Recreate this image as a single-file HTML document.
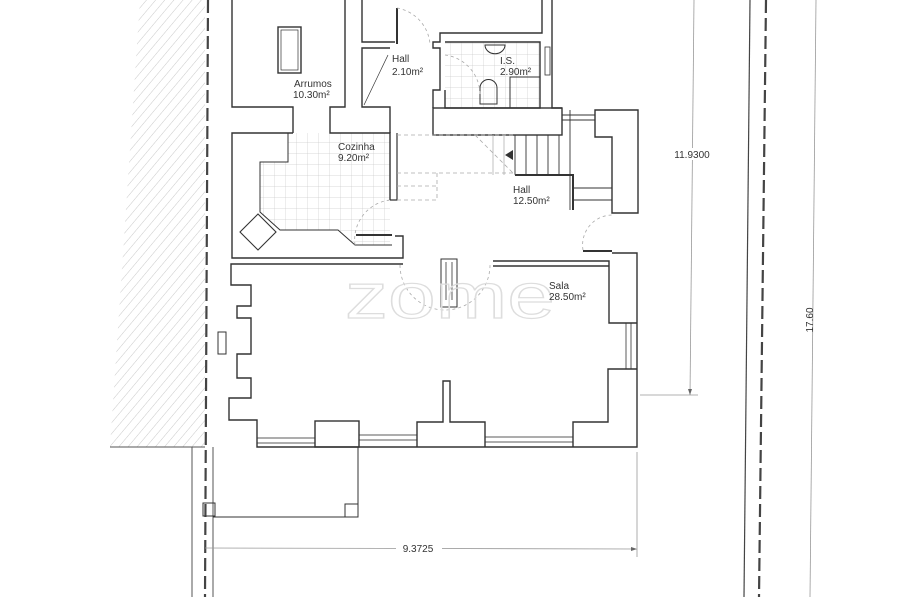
<!DOCTYPE html>
<html><head><meta charset="utf-8"><style>
html,body{margin:0;padding:0;background:#fff;}
svg{display:block}
text{font-family:"Liberation Sans",sans-serif;fill:#333;font-size:10px}
text.wm{font-size:64px;fill:none;stroke:#ddd;stroke-width:1.2}
</style></head><body>
<svg width="900" height="597" viewBox="0 0 900 597" xmlns="http://www.w3.org/2000/svg">
<defs>
<pattern id="hat" width="7" height="7" patternUnits="userSpaceOnUse" patternTransform="rotate(40)">
<line x1="0" y1="0" x2="0" y2="7" stroke="#bbb" stroke-width="0.8"/>
</pattern>
<pattern id="tile" width="11" height="11" patternUnits="userSpaceOnUse">
<path d="M11 0V11H0" fill="none" stroke="#ccc" stroke-width="0.7"/>
</pattern>
</defs>
<polygon points="140,0 205,0 205,447 110,447" fill="url(#hat)"/>
<line x1="110" y1="447" x2="205" y2="447" stroke="#555" stroke-width="1"/>
<line x1="208" y1="0" x2="205" y2="597" stroke="#444" stroke-width="2.2" stroke-dasharray="13,5"/>
<line x1="192" y1="447" x2="192" y2="597" stroke="#555" stroke-width="1"/>
<line x1="213" y1="447" x2="213" y2="597" stroke="#555" stroke-width="1"/>
<line x1="750" y1="0" x2="744" y2="597" stroke="#444" stroke-width="1.2"/>
<line x1="766" y1="0" x2="759" y2="597" stroke="#444" stroke-width="2.2" stroke-dasharray="13,5"/>
<line x1="816" y1="0" x2="810" y2="597" stroke="#999" stroke-width="0.8"/>
<text x="0" y="0" transform="translate(813,320) rotate(-90)" text-anchor="middle">17.60</text>
<line x1="694" y1="0" x2="690" y2="395" stroke="#999" stroke-width="0.8"/>
<line x1="640" y1="395" x2="698" y2="395" stroke="#999" stroke-width="0.8"/>
<polygon points="690,395 688,389 692,389" fill="#666"/>
<rect x="670" y="148" width="46" height="12" fill="#fff"/>
<text x="692" y="158" text-anchor="middle">11.9300</text>
<line x1="205" y1="548" x2="637" y2="549" stroke="#999" stroke-width="0.8"/>
<line x1="637" y1="452" x2="637" y2="557" stroke="#999" stroke-width="0.8"/>
<polygon points="637,549 631,547 631,551" fill="#666"/>
<rect x="396" y="542" width="46" height="12" fill="#fff"/>
<text x="418" y="552" text-anchor="middle">9.3725</text>

<g fill="none" stroke="#333" stroke-width="1.4">
<polygon points="288,133 390,133 390,245 355,245 338,230 280,230 260,212 260,162 288,162" fill="url(#tile)" stroke="none"/>
<rect x="445" y="42" width="95" height="66" fill="url(#tile)" stroke="none"/>
<polyline points="232,0 232,107 293,107 293,133"/>
<polyline points="345,0 345,107 330,107 330,133 390,133 390,200"/>
<rect x="278" y="27" width="23" height="46"/>
<rect x="281" y="30" width="17" height="40" stroke-width="0.7"/>
<polyline points="293,133 232,133 232,258 403,258 403,236 395,236"/>
<polyline points="397,133 397,200 390,200" stroke-width="1.2"/>
<polyline points="288,133 288,162 260,162 260,212 280,230 338,230 355,245 392,245" stroke-width="1"/>
<polygon points="258,214 276,232 258,250 240,232" stroke-width="1.1"/>
<line x1="356" y1="235" x2="392" y2="235" stroke-width="2"/>
<polyline points="362,0 362,42 395,42"/>
<line x1="397" y1="8" x2="397" y2="44" stroke-width="2"/>
<polyline points="390,48 362,48 362,107 390,107 390,133"/>
<line x1="364" y1="105" x2="388" y2="55" stroke-width="0.7"/>
<polyline points="542,0 542,33 440,33 440,42 433,42 433,48 440,48 440,90 433,90 433,108"/>
<polyline points="552,0 552,45"/>
<polyline points="445,42 540,42 540,108 445,108 445,90"/>
<path d="M485,45 a8,7 0 0 0 20,0 z" stroke-width="1"/>
<path d="M480,104 v-16 a8,8 0 0 1 17,0 v16 z" stroke-width="1"/>
<rect x="510" y="77" width="30" height="31" stroke-width="1"/>
<rect x="545" y="47" width="5" height="28" stroke-width="0.8"/>
<polyline points="552,45 552,108 562,108"/>
<rect x="433" y="108" width="129" height="27"/>
<g stroke-width="0.9">
<line x1="504" y1="135" x2="504" y2="175" stroke="#bbb"/><line x1="493" y1="135" x2="493" y2="175" stroke="#bbb"/>
<line x1="515" y1="135" x2="515" y2="175"/><line x1="526" y1="135" x2="526" y2="175"/>
<line x1="537" y1="135" x2="537" y2="175"/><line x1="548" y1="135" x2="548" y2="175"/>
<line x1="559" y1="135" x2="559" y2="175"/><line x1="570" y1="110" x2="570" y2="210"/>
<line x1="574" y1="188" x2="612" y2="188"/><line x1="574" y1="200" x2="612" y2="200"/>
<line x1="562" y1="115" x2="595" y2="115"/><line x1="562" y1="120" x2="595" y2="120"/>
</g>
<polyline points="515,175 573,175 573,210" stroke-width="2"/>
<polygon points="595,110 638,110 638,213 612,213 612,137 595,137"/>
<polygon points="505,155 513,150 513,160" fill="#333" stroke="none"/>
<g stroke="#aaa" stroke-width="0.8" stroke-dasharray="4,3">
<line x1="397" y1="135" x2="515" y2="135"/><line x1="397" y1="173" x2="515" y2="173"/>
<line x1="397" y1="186" x2="437" y2="186"/><line x1="397" y1="200" x2="437" y2="200"/>
<line x1="437" y1="173" x2="437" y2="200"/>
<line x1="475" y1="135" x2="515" y2="175"/>
</g>
<g stroke="#aaa" stroke-width="0.8" stroke-dasharray="3,3">
<path d="M397,8 a40,40 0 0 1 33,36"/>
<path d="M355,245 a40,40 0 0 1 35,-45"/>
<path d="M583,250 a30,30 0 0 1 30,-35"/>
<path d="M400,265 a42,42 0 0 0 90,0"/>
<path d="M445,55 a40,40 0 0 1 35,40"/>
</g>
<line x1="583" y1="251" x2="612" y2="251" stroke-width="2"/>
<polyline points="403,264 231,264 231,285 251,285 251,306 237,306 237,318 251,318 251,354 237,354 237,378 251,378 251,398 229,398 229,420 257,420 257,447 637,447 637,253 612,253"/>
<polyline points="493,261 609,261 609,268 609,323 637,323"/>
<polyline points="493,266 609,266"/>
<polyline points="637,369 608,369 608,422 573,422 573,447"/>
<rect x="626" y="323" width="5" height="46" stroke-width="0.8"/>
<rect x="315" y="421" width="44" height="26"/>
<polyline points="417,447 417,422 443,422 443,381 450,381 450,422 485,422 485,447"/>
<g stroke-width="0.8">
<rect x="257" y="438" width="58" height="5"/>
<rect x="359" y="435" width="58" height="5"/>
<rect x="485" y="437" width="88" height="5"/>
</g>
<rect x="218" y="332" width="8" height="22" stroke-width="1"/>
<rect x="441" y="259" width="16" height="48" stroke-width="1"/>
<line x1="446" y1="262" x2="446" y2="300" stroke-width="0.8"/>
<line x1="452" y1="262" x2="452" y2="300" stroke-width="0.8"/>
<polyline points="213,517 358,517 358,447" stroke-width="1"/>
<rect x="203" y="503" width="12" height="13" stroke-width="1"/>
<rect x="345" y="504" width="13" height="13" stroke-width="1"/>
</g>
<text class="wm" x="345" y="318" textLength="210" lengthAdjust="spacingAndGlyphs">zome</text>
<text x="294" y="87">Arrumos</text><text x="293" y="98">10.30m²</text>
<text x="392" y="62">Hall</text><text x="392" y="75">2.10m²</text>
<text x="500" y="64">I.S.</text><text x="500" y="75">2.90m²</text>
<text x="338" y="150">Cozinha</text><text x="338" y="161">9.20m²</text>
<text x="513" y="193">Hall</text><text x="513" y="204">12.50m²</text>
<text x="549" y="289">Sala</text><text x="549" y="300">28.50m²</text>
</svg>
</body></html>
